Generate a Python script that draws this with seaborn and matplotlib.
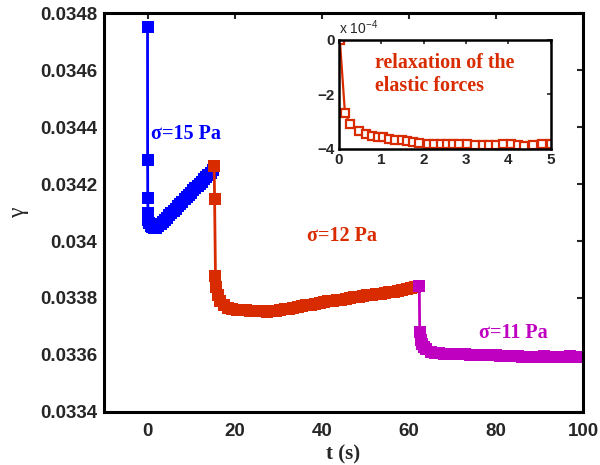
import pandas as pd
import matplotlib
matplotlib.use('Agg')
import matplotlib.pyplot as plt
import seaborn as sns

# %% data
t_15 = [0.0, 0.02, 0.05, 0.1, 0.2, 0.4, 0.7, 1.0, 1.5, 2.0, 2.5, 3.0, 3.5, 4.0,
        4.5, 5.0, 5.5, 6.0, 6.5, 7.0, 7.5, 8.0, 8.5, 9.0, 9.5, 10.0, 10.5, 11.0,
        11.5, 12.0, 12.5, 13.0, 13.5, 14.0, 14.5, 15.0, 15.3]
g_15 = [0.034752, 0.034284, 0.034152, 0.034098, 0.034075, 0.034062, 0.034052,
        0.034048, 0.034046, 0.034047, 0.034052, 0.034058, 0.034066, 0.034074,
        0.034082, 0.034090, 0.034098, 0.034106, 0.034114, 0.034122, 0.034130,
        0.034138, 0.034146, 0.034154, 0.034162, 0.034170, 0.034178, 0.034186,
        0.034193, 0.034201, 0.034208, 0.034216, 0.034224, 0.034232, 0.034240,
        0.034248, 0.034263]

t_12 = [15.3, 15.4, 15.6, 15.8, 16.2, 16.7, 17.5, 18.5, 19.5, 20.5, 21.5, 22.5,
        23.5, 24.5, 25.5, 26.5, 27.5, 28.5, 29.5, 30.5, 31.5, 32.5, 33.5, 34.5,
        35.5, 36.5, 37.5, 38.5, 39.5, 40.5, 41.5, 42.5, 43.5, 44.5, 45.5, 46.5,
        47.5, 48.5, 49.5, 50.5, 51.5, 52.5, 53.5, 54.5, 55.5, 56.5, 57.5, 58.5,
        59.5, 60.5, 61.5, 62.4]
g_12 = [0.034263, 0.034146, 0.033877, 0.033840, 0.033812, 0.033790, 0.033775,
        0.033765, 0.033761, 0.033759, 0.033758, 0.033757, 0.033756, 0.033755,
        0.033754, 0.033753, 0.033752, 0.033753, 0.033754, 0.033757, 0.033760,
        0.033762, 0.033765, 0.033768, 0.033771, 0.033774, 0.033777, 0.033780,
        0.033783, 0.033786, 0.033788, 0.033790, 0.033792, 0.033794, 0.033797,
        0.033799, 0.033802, 0.033804, 0.033807, 0.033809, 0.033811, 0.033813,
        0.033815, 0.033818, 0.033820, 0.033822, 0.033825, 0.033828, 0.033831,
        0.033834, 0.033837, 0.033842]

t_11 = [62.4, 62.5, 62.7, 63.0, 63.5, 64.0, 65.0, 66.0, 67.0, 68.0, 69.0, 70.0,
        71.0, 72.0, 73.0, 74.0, 75.0, 76.0, 77.0, 78.0, 79.0, 80.0, 81.0, 82.0,
        83.0, 84.0, 85.0, 86.0, 87.0, 88.0, 89.0, 90.0, 91.0, 92.0, 93.0, 94.0,
        95.0, 96.0, 97.0, 98.0, 99.0, 100.0]
g_11 = [0.033842, 0.033682, 0.033653, 0.033638, 0.033628, 0.033620, 0.033612,
        0.033608, 0.033606, 0.033605, 0.033604, 0.033603, 0.033603, 0.033602,
        0.033602, 0.033601, 0.033601, 0.033600, 0.033600, 0.033600, 0.033599,
        0.033599, 0.033598, 0.033598, 0.033597, 0.033596, 0.033595, 0.033594,
        0.033593, 0.033593, 0.033594, 0.033594, 0.033595, 0.033594, 0.033594,
        0.033593, 0.033594, 0.033594, 0.033595, 0.033594, 0.033594, 0.033594]

# inset: relaxation, in units of 1e-4
t_rel = [0.02, 0.14, 0.26, 0.48, 0.64, 0.79, 0.91, 1.04, 1.19, 1.33, 1.48, 1.61,
         1.75, 1.89, 2.09, 2.25, 2.40, 2.55, 2.68, 2.84, 3.02, 3.22, 3.40, 3.55,
         3.71, 3.87, 4.07, 4.23, 4.37, 4.59, 4.79, 5.0]
d_rel = [0.0, -2.67, -3.08, -3.36, -3.46, -3.52, -3.56, -3.58, -3.63, -3.66,
         -3.68, -3.71, -3.74, -3.77, -3.81, -3.83, -3.83, -3.81, -3.84, -3.84,
         -3.81, -3.86, -3.85, -3.86, -3.86, -3.84, -3.84, -3.85, -3.89, -3.86,
         -3.84, -3.83]

stress_labels = ['σ=15 Pa', 'σ=12 Pa', 'σ=11 Pa']
colors = ['#0000ff', '#d92b00', '#c000c0']

# %%
sns.set_style('white')
plt.rcParams['font.family'] = ['Liberation Sans', 'DejaVu Sans']
plt.rcParams['mathtext.default'] = 'regular'
plt.rcParams['axes.unicode_minus'] = True

df = pd.concat([
    pd.DataFrame({'t': t_15, 'gamma': g_15, 'stress': stress_labels[0]}),
    pd.DataFrame({'t': t_12, 'gamma': g_12, 'stress': stress_labels[1]}),
    pd.DataFrame({'t': t_11, 'gamma': g_11, 'stress': stress_labels[2]}),
], ignore_index=True)
rel_df = pd.DataFrame({'t': t_rel, 'd': d_rel})

fig = plt.figure(figsize=(6, 4.65), dpi=100)
ax = fig.add_axes([0.1733, 0.114, 0.7984, 0.858])

sns.lineplot(data=df, x='t', y='gamma', hue='stress', palette=colors,
             hue_order=stress_labels, estimator=None, sort=False,
             marker='s', markersize=8, markeredgewidth=0, linewidth=2.0,
             legend=False, ax=ax)

ax.set_xlim(-10, 100)
ax.set_ylim(0.0334, 0.0348)
ax.set_xticks([0, 20, 40, 60, 80, 100])
ax.set_yticks([0.0334, 0.0336, 0.0338, 0.034, 0.0342, 0.0344, 0.0346, 0.0348])
ax.set_yticklabels(['0.0334', '0.0336', '0.0338', '0.034', '0.0342', '0.0344',
                    '0.0346', '0.0348'])
ax.tick_params(direction='in', length=4, width=1.5, top=True, right=True,
               labelsize=13.5, pad=5)
ax.tick_params(axis='x', pad=8)
for lab in ax.get_xticklabels() + ax.get_yticklabels():
    lab.set_fontweight('bold')
for sp in ax.spines.values():
    sp.set_linewidth(2.2)
    sp.set_color('black')

ax.set_xlabel('t (s)', family='Liberation Serif', fontweight='bold',
              fontsize=15, labelpad=3)
ax.set_ylabel('γ', family='Liberation Serif', fontsize=17, labelpad=8)

ax.text(0.7, 0.034375, stress_labels[0], color=colors[0], family='Liberation Serif',
        fontweight='bold', fontsize=14.5, va='center', ha='left')
ax.text(36.7, 0.034017, stress_labels[1], color=colors[1], family='Liberation Serif',
        fontweight='bold', fontsize=14.5, va='center', ha='left')
ax.text(76.1, 0.033678, stress_labels[2], color=colors[2], family='Liberation Serif',
        fontweight='bold', fontsize=14.5, va='center', ha='left')

# %% inset
axi = fig.add_axes([0.565, 0.680, 0.353, 0.234])
sns.lineplot(data=rel_df, x='t', y='d', color=colors[1], estimator=None,
             sort=False, marker='s', markersize=5.5, markerfacecolor='white',
             markeredgecolor=colors[1], markeredgewidth=1.6, linewidth=1.6,
             ax=axi)
axi.set_xlim(0, 5)
axi.set_ylim(-4, 0)
axi.set_xticks([0, 1, 2, 3, 4, 5])
axi.set_yticks([-4, -2, 0])
axi.set_xlabel('')
axi.set_ylabel('')
axi.tick_params(direction='in', length=3, width=1.2, top=True, right=True,
                labelsize=11, pad=3)
for lab in axi.get_xticklabels() + axi.get_yticklabels():
    lab.set_fontweight('bold')
for sp in axi.spines.values():
    sp.set_linewidth(1.8)
    sp.set_color('black')
axi.text(0.0, 1.03, r'x 10$^{-4}$', transform=axi.transAxes, fontsize=10,
         ha='left', va='bottom')
axi.text(0.86, -1.28, 'relaxation of the\nelastic forces', color=colors[1],
         family='Liberation Serif', fontweight='bold', fontsize=14.4,
         va='center', ha='left', linespacing=1.2)

fig.savefig('out.png', dpi=100)
